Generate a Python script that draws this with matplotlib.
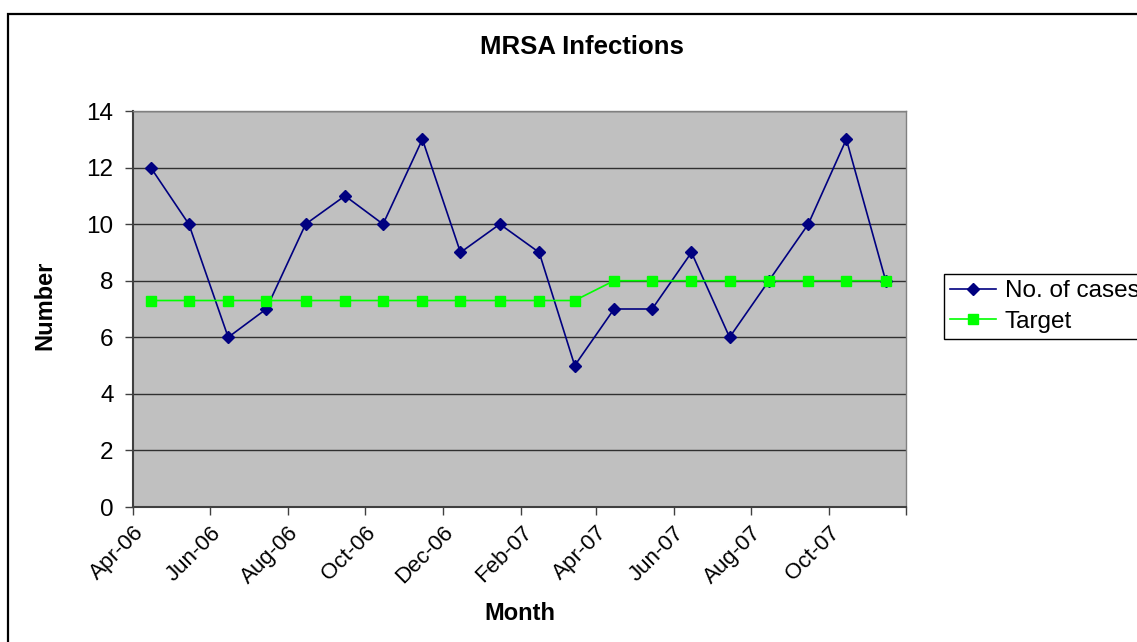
import datetime as dt
import matplotlib
matplotlib.use("Agg")
import matplotlib.pyplot as plt
from matplotlib.patches import Rectangle

plt.rcParams['font.family'] = ['Liberation Sans', 'DejaVu Sans']

# data
months = ['2006-04', '2006-05', '2006-06', '2006-07', '2006-08', '2006-09', '2006-10',
          '2006-11', '2006-12', '2007-01', '2007-02', '2007-03', '2007-04', '2007-05',
          '2007-06', '2007-07', '2007-08', '2007-09', '2007-10', '2007-11']
cases = [12, 10, 6, 7, 10, 11, 10, 13, 9, 10, 9, 5, 7, 7, 9, 6, 8, 10, 13, 8]
target = [7.3] * 12 + [8] * 8
tick_months = ['2006-04', '2006-06', '2006-08', '2006-10', '2006-12', '2007-02',
               '2007-04', '2007-06', '2007-08', '2007-10', '2007-12']

dates = [dt.datetime.strptime(m + '-15', '%Y-%m-%d') for m in months]
ticks = [dt.datetime.strptime(m + '-01', '%Y-%m-%d') for m in tick_months]

W, H = 1137, 642
fig = plt.figure(figsize=(W / 100, H / 100), dpi=100)
ax = fig.add_axes([133 / W, 1 - 507 / H, (906 - 133) / W, (507 - 111) / H])
ax.set_facecolor('#C0C0C0')

# outer chart border
fig.patches.append(Rectangle((8 / W, -0.1), 1.2, 1 - 14 / H + 0.1, transform=fig.transFigure,
                             fill=False, edgecolor='black', linewidth=1.6))

ax.plot(dates, cases, color='#000080', marker='D', markersize=6, linewidth=1.2,
        label='No. of cases', zorder=3)
ax.plot(dates, target, color='#00FF00', marker='s', markersize=7, linewidth=1.2,
        label='Target', zorder=3)

ax.set_xlim(ticks[0], ticks[-1])
ax.set_ylim(0, 14)
ax.set_yticks(range(0, 15, 2))
ax.set_xticks(ticks)
labels = [t.strftime('%b-%y') for t in ticks]
labels[-1] = ''
ax.set_xticklabels(labels, rotation=45, ha='right', rotation_mode='anchor')
ax.tick_params(axis='both', direction='out', length=6, width=1, color='#404040')
ax.tick_params(axis='x', labelsize=16, pad=5)
ax.tick_params(axis='y', labelsize=17.5, pad=8)
ax.grid(axis='y', color='#303030', linewidth=1)
ax.set_axisbelow(True)
for s in ['left', 'bottom']:
    ax.spines[s].set_color('#404040')
    ax.spines[s].set_linewidth(1.5)
for s in ['top', 'right']:
    ax.spines[s].set_color('#808080')
    ax.spines[s].set_linewidth(1)

fig.text(582 / W, 1 - 47 / H, 'MRSA Infections', fontsize=18.5, fontweight='bold',
         ha='center', va='center')
fig.text(520 / W, 1 - 614 / H, 'Month', fontsize=17, fontweight='bold',
         ha='center', va='center')
fig.text(45 / W, 1 - 305 / H, 'Number', fontsize=17, fontweight='bold',
         ha='center', va='center', rotation=90)

leg = fig.legend(loc='upper left', bbox_to_anchor=(944 / W, 1 - 274 / H), fontsize=17.5,
                 frameon=True, fancybox=False, edgecolor='black', framealpha=1,
                 handlelength=1.9, handletextpad=0.35, borderpad=0.25, labelspacing=0.35,
                 borderaxespad=0)
leg.get_frame().set_linewidth(1)

fig.savefig('out.png', dpi=100)
